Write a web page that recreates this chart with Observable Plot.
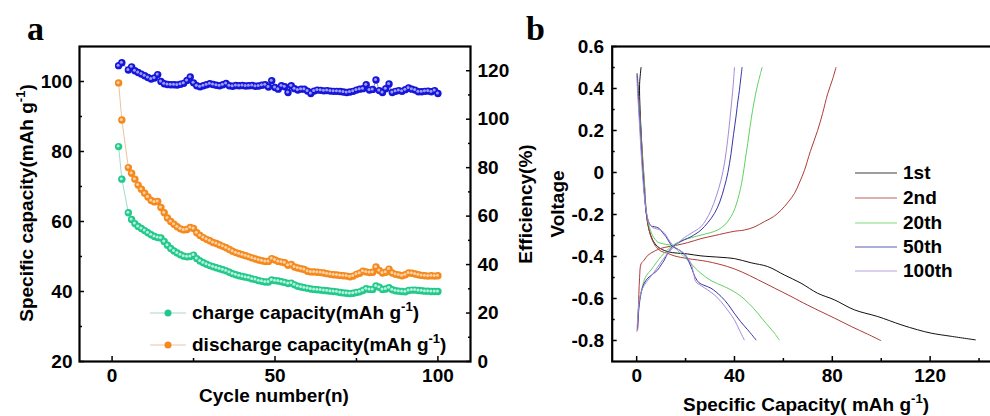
<!DOCTYPE html>
<html><head><meta charset="utf-8">
<script src="https://cdn.jsdelivr.net/npm/d3@7"></script>
<script src="https://cdn.jsdelivr.net/npm/@observablehq/plot@0.6"></script>
<style>
body{margin:0;width:990px;height:416px;overflow:hidden;position:relative;background:#fff;font-family:"Liberation Sans",Arial,sans-serif;}
#pa,#pb{position:absolute;top:0;}
#pa{left:0;width:545px}#pb{left:545px;width:458px}
.t{position:absolute;font-weight:bold;font-size:19px;white-space:nowrap;color:#000;line-height:1}
.rot{transform:translate(-50%,-50%) rotate(-90deg)}
.ctr{transform:translate(-50%,-50%)}
.sup{font-size:13px;position:relative;top:-8px}
.letter{position:absolute;font-family:"Liberation Serif","Times New Roman",serif;font-weight:bold;font-size:34px;line-height:1}
.leg{position:absolute;display:flex;align-items:center;font-weight:bold;font-size:19px;white-space:nowrap;line-height:1}
</style></head>
<body>
<div id="pa"></div><div id="pb"></div>
<script>
// ---------- Panel a data ----------
const cycles = [2,3,5,6,7,8,9,10,11,12,13,14,15,16,17,18,19,20,21,22,23,24,25,26,27,28,29,30,31,32,33,34,35,36,37,38,39,40,41,42,43,44,45,46,47,48,49,50,51,52,53,54,55,56,57,58,59,60,61,62,63,64,65,66,67,68,69,70,71,72,73,74,75,76,77,78,79,80,81,82,83,84,85,86,87,88,89,90,91,92,93,94,95,96,97,98,99,100];
const chargeCap = [81.4,72.1,62.5,60.6,59.4,58.6,58.0,57.4,56.8,56.2,55.7,55.4,55.3,54.3,53.2,52.3,51.6,51.0,50.5,50.1,49.9,50.0,50.4,49.4,48.7,48.2,47.8,47.4,47.1,46.8,46.5,46.2,45.9,45.5,45.1,44.8,44.5,44.3,44.1,43.9,43.6,43.4,43.1,42.9,42.7,42.7,43.3,43.1,43.0,42.8,42.6,42.3,42.4,41.9,41.5,41.3,41.1,40.9,40.7,40.6,40.5,40.4,40.3,40.2,40.1,40.0,39.9,39.7,39.6,39.5,39.4,39.5,39.7,39.9,40.3,40.8,40.6,40.6,41.6,41.2,40.6,40.7,41.1,40.5,40.2,40.1,40.0,39.9,40.3,40.4,40.4,40.3,40.2,40.1,40.1,40.0,40.0,40.0];
const dischargeCap = [99.6,89.0,75.4,73.8,72.1,70.4,69.2,68.1,67.0,66.0,65.6,65.7,64.0,62.5,61.0,60.0,59.2,58.5,57.9,57.6,57.7,58.3,58.0,56.8,56.0,55.4,54.9,54.5,54.0,53.7,53.3,52.9,52.5,52.0,51.5,51.1,50.8,50.5,50.2,49.9,49.6,49.3,49.0,48.8,48.6,48.6,49.4,49.0,48.6,48.4,48.2,47.5,47.7,47.0,46.7,46.5,46.3,45.8,45.6,45.6,45.5,45.4,45.3,45.1,44.9,44.8,44.7,44.6,44.5,44.4,44.2,44.4,44.9,45.2,45.8,45.6,45.4,45.5,47.0,46.0,45.3,45.5,46.4,45.3,44.9,44.7,44.5,44.8,45.3,45.2,45.0,44.8,44.6,44.5,44.4,44.5,44.4,44.5];
const efficiency = [122.1,123.3,120.3,121.6,120.0,119.3,118.6,117.9,117.2,116.6,117.0,118.4,115.6,114.6,114.3,114.2,114.2,114.1,114.4,114.8,116.0,117.4,115.0,113.8,113.4,113.8,114.2,114.6,114.3,114.0,113.8,114.2,114.7,113.8,113.6,113.9,113.8,113.9,113.7,113.8,113.9,113.6,113.7,114.0,114.2,113.3,115.9,113.1,112.4,113.8,113.4,111.0,113.8,112.6,112.0,112.4,112.4,111.6,110.6,111.6,112.0,111.9,111.7,111.8,111.6,111.5,111.5,111.4,111.2,111.0,111.2,111.5,112.0,112.4,112.6,114.2,112.0,112.3,116.2,111.8,111.0,112.6,114.5,111.0,111.5,111.8,111.5,112.2,112.9,112.4,112.0,111.3,111.3,111.5,111.6,111.3,111.8,110.6];
const capTicks = [20,40,60,80,100];
const capMinor = [30,50,70,90];
const effTicks = [0,20,40,60,80,100,120];
const effMinor = [10,30,50,70,90,110];
const cycleTicks = [0,50,100];
const cycleMinor = [25,75];

// ---------- Panel b data ([capacity, voltage]) ----------
const seriesNames = ["1st","2nd","20th","50th","100th"];
const seriesColors = ["#111111","#b03a3a","#5fd35f","#3535a8","#a58bd6"];
const dis1st = [[1.8,0.5],[1.2,0.42],[1.4,0.3],[2.0,0.15],[2.6,0.0],[3.3,-0.12],[4.0,-0.2],[5.0,-0.27],[6.5,-0.32],[8.6,-0.353],[12.7,-0.377],[20.9,-0.388],[26.3,-0.397],[34.5,-0.404],[40,-0.41],[46.8,-0.43],[53.6,-0.448],[60.4,-0.488],[67.2,-0.527],[74,-0.575],[80.8,-0.606],[89,-0.654],[98.6,-0.686],[108.1,-0.725],[114.9,-0.749],[120.4,-0.765],[128.6,-0.78],[138.5,-0.797]];
const dis2nd = [[0.3,0.47],[0.6,0.4],[1.2,0.3],[1.8,0.185],[2.6,0.05],[3.3,-0.07],[4.0,-0.2],[5.0,-0.27],[6.3,-0.32],[7.9,-0.353],[10,-0.375],[12.7,-0.385],[15.4,-0.397],[20.9,-0.41],[29,-0.424],[37.2,-0.448],[42.7,-0.472],[49.5,-0.51],[56.3,-0.55],[63.1,-0.59],[70,-0.632],[80.8,-0.693],[87.7,-0.733],[94.5,-0.77],[99.8,-0.8]];
const ch2nd = [[0.4,-0.75],[0.6,-0.68],[0.9,-0.58],[1.2,-0.5],[1.8,-0.435],[3.1,-0.417],[4.5,-0.395],[7.2,-0.375],[10,-0.361],[16.8,-0.345],[20.9,-0.334],[26.3,-0.315],[32,-0.3],[39.9,-0.28],[44,-0.274],[48,-0.26],[52.2,-0.234],[56,-0.21],[59,-0.18],[62,-0.14],[64.5,-0.1],[66.5,-0.05],[68.6,0.01],[71,0.1],[74,0.2],[76,0.28],[78.1,0.375],[80,0.44],[81.5,0.5]];
const dis20th = [[0.2,0.47],[0.6,0.38],[1.2,0.28],[1.8,0.16],[2.6,0.03],[3.3,-0.08],[4.0,-0.19],[5,-0.25],[6.5,-0.3],[8.5,-0.33],[11,-0.34],[14.7,-0.35],[17.5,-0.38],[20.9,-0.417],[23.5,-0.45],[26.3,-0.48],[30.4,-0.515],[35.8,-0.543],[39.5,-0.565],[42.7,-0.59],[46,-0.625],[49.5,-0.67],[53,-0.72],[56,-0.76],[58.3,-0.797]];
const ch20th = [[0.4,-0.7],[1.0,-0.62],[2.4,-0.54],[4,-0.49],[5.9,-0.464],[8,-0.43],[10,-0.4],[12,-0.375],[14,-0.353],[16.5,-0.335],[19.5,-0.32],[22.5,-0.31],[26.3,-0.298],[30,-0.287],[33.1,-0.274],[36,-0.25],[38.6,-0.21],[40.2,-0.17],[41.3,-0.13],[42.4,-0.08],[43.4,-0.02],[44.4,0.06],[45.4,0.138],[46.4,0.22],[47.4,0.296],[48.5,0.365],[49.5,0.42],[50.5,0.465],[51.3,0.5]];
const dis50th = [[0.3,0.46],[0.7,0.36],[1.3,0.24],[2,0.1],[2.8,-0.04],[3.5,-0.14],[4.2,-0.21],[5.2,-0.242],[5.9,-0.255],[7.2,-0.258],[9.2,-0.266],[10.5,-0.285],[12,-0.306],[13.5,-0.335],[14.7,-0.353],[17.4,-0.369],[20.2,-0.4],[22.2,-0.448],[24,-0.5],[25.5,-0.525],[27.5,-0.537],[30.4,-0.551],[34.5,-0.59],[37.5,-0.63],[39.9,-0.67],[42.5,-0.71],[45.4,-0.749],[48.8,-0.797]];
const ch50th = [[0.4,-0.74],[0.9,-0.65],[1.8,-0.575],[3,-0.53],[4.5,-0.504],[6.5,-0.485],[8.6,-0.464],[10,-0.44],[11.3,-0.417],[12.7,-0.385],[14,-0.361],[16.8,-0.337],[19.5,-0.32],[22.2,-0.306],[26.3,-0.274],[29,-0.24],[31.8,-0.195],[34,-0.14],[35.9,-0.068],[37.3,0.0],[38.6,0.09],[39.6,0.18],[40.6,0.264],[41.4,0.34],[42,0.39],[42.6,0.45],[43.1,0.5]];
const dis100th = [[0,0.47],[0.5,0.36],[1.1,0.24],[1.8,0.1],[2.6,-0.04],[3.4,-0.14],[4.2,-0.2],[5.2,-0.245],[6.5,-0.262],[8,-0.268],[10,-0.276],[11.5,-0.29],[12.7,-0.313],[14,-0.335],[15.4,-0.353],[17.5,-0.37],[19.5,-0.385],[21,-0.41],[22.2,-0.432],[23.3,-0.48],[24.2,-0.52],[26.5,-0.54],[29,-0.559],[32,-0.585],[34.5,-0.615],[37.5,-0.66],[39.9,-0.7],[42,-0.75],[44,-0.797]];
const ch100th = [[0.1,-0.757],[0.5,-0.68],[1.2,-0.6],[2.5,-0.55],[4.1,-0.52],[6.5,-0.485],[8.6,-0.45],[10.7,-0.415],[12.7,-0.385],[14.7,-0.36],[16.8,-0.337],[19.5,-0.31],[22.2,-0.29],[24.3,-0.275],[26.3,-0.258],[28.4,-0.225],[30.4,-0.18],[32.5,-0.115],[34.5,-0.036],[36,0.05],[37.2,0.154],[38.1,0.25],[38.9,0.344],[39.5,0.42],[40,0.5]];
const voltTicks = [-0.8,-0.6,-0.4,-0.2,0,0.2,0.4,0.6];
const voltMinor = [-0.7,-0.5,-0.3,-0.1,0.1,0.3,0.5];
const capBTicks = [0,40,80,120];
const capBMinor = [20,60,100,140];

// ---------- Panel a ----------
const effToLeft = e => 20 + e * 90 / 130;
const leftToEff = y => Math.round((y - 20) * 130 / 90);
const rowsA = cycles.map((c, i) => ({c, ch: chargeCap[i], dis: dischargeCap[i], eff: efficiency[i]}));
const GREEN = "#22c98c", ORANGE = "#f5891c", BLUE = "#1616d8";
const styleCommon = {fontFamily: "'Liberation Sans', Arial, sans-serif", fontSize: "19px", fontWeight: "bold", color: "#000", background: "transparent", overflow: "visible", maxWidth: "none"};
const dotsWithHighlight = (y, color, hl) => [
  Plot.dot(rowsA, {x: "c", y, r: 3.7, fill: color}),
  Plot.dot(rowsA, {x: "c", y, r: 1.5, fill: hl, dx: -0.5, dy: -0.5})
];
const plotA = Plot.plot({
  width: 545, height: 416, marginLeft: 79, marginRight: 75, marginTop: 46, marginBottom: 55,
  x: {domain: [-10, 110]},
  y: {domain: [20, 110]},
  style: styleCommon,
  marks: [
    Plot.line(rowsA, {x: "c", y: "ch", stroke: "#9fdcc6", strokeWidth: 1}),
    Plot.line(rowsA, {x: "c", y: "dis", stroke: "#ecc39e", strokeWidth: 1}),
    Plot.line(rowsA, {x: "c", y: d => effToLeft(d.eff), stroke: "#8f8fe8", strokeWidth: 1}),
    ...dotsWithHighlight("ch", GREEN, "#b8f0da"),
    ...dotsWithHighlight("dis", ORANGE, "#fbd2a8"),
    ...dotsWithHighlight(d => effToLeft(d.eff), BLUE, "#9c9cff"),
    Plot.axisY(capTicks, {anchor: "left", tickSize: 0, tickPadding: 7, label: null}),
    Plot.axisY(capTicks, {anchor: "left", tickSize: -5, tickFormat: () => "", label: null, strokeWidth: 1.5}),
    Plot.axisY(capMinor, {anchor: "left", tickSize: -3, tickFormat: () => "", label: null, strokeWidth: 1.5}),
    Plot.axisY(effTicks.map(effToLeft), {anchor: "right", tickSize: 0, tickPadding: 7, tickFormat: leftToEff, label: null}),
    Plot.axisY(effTicks.map(effToLeft), {anchor: "right", tickSize: -5, tickFormat: () => "", label: null, strokeWidth: 1.5}),
    Plot.axisY(effMinor.map(effToLeft), {anchor: "right", tickSize: -3, tickFormat: () => "", label: null, strokeWidth: 1.5}),
    Plot.axisX(cycleTicks, {anchor: "bottom", tickSize: 0, tickPadding: 7, label: null}),
    Plot.axisX(cycleTicks, {anchor: "bottom", tickSize: -5, tickFormat: () => "", label: null, strokeWidth: 1.5}),
    Plot.axisX(cycleMinor, {anchor: "bottom", tickSize: -3, tickFormat: () => "", label: null, strokeWidth: 1.5}),
    Plot.frame({stroke: "#000", strokeWidth: 2.2})
  ]
});
document.getElementById("pa").append(plotA);

// ---------- Panel b ----------
const curves = [
  {name: "1st", id: "1d", pts: dis1st},
  {name: "2nd", id: "2d", pts: dis2nd}, {name: "2nd", id: "2c", pts: ch2nd},
  {name: "20th", id: "20d", pts: dis20th}, {name: "20th", id: "20c", pts: ch20th},
  {name: "50th", id: "50d", pts: dis50th}, {name: "50th", id: "50c", pts: ch50th},
  {name: "100th", id: "100d", pts: dis100th}, {name: "100th", id: "100c", pts: ch100th}
];
const rowsB = curves.flatMap(cv => cv.pts.map(([cap, v]) => ({cap, v, name: cv.name, id: cv.id})));
const fmtV = d => d === 0 ? "0" : d.toFixed(1);
const plotB = Plot.plot({
  width: 458, height: 416, marginLeft: 66.7, marginRight: 0, marginTop: 46, marginBottom: 55,
  x: {domain: [-10, 150]},
  y: {domain: [-0.9, 0.6]},
  color: {domain: seriesNames, range: seriesColors},
  style: styleCommon,
  marks: [
    Plot.line(rowsB, {x: "cap", y: "v", z: "id", stroke: "name", strokeWidth: 1, curve: "catmull-rom"}),
    Plot.axisY(voltTicks, {anchor: "left", tickSize: 0, tickPadding: 8, tickFormat: fmtV, label: null}),
    Plot.axisY(voltTicks, {anchor: "left", tickSize: -5, tickFormat: () => "", label: null, strokeWidth: 1.5}),
    Plot.axisY(voltMinor, {anchor: "left", tickSize: -3, tickFormat: () => "", label: null, strokeWidth: 1.5}),
    Plot.axisX(capBTicks, {anchor: "bottom", tickSize: 0, tickPadding: 7, label: null}),
    Plot.axisX(capBTicks, {anchor: "bottom", tickSize: -5, tickFormat: () => "", label: null, strokeWidth: 1.5}),
    Plot.axisX(capBMinor, {anchor: "bottom", tickSize: -3, tickFormat: () => "", label: null, strokeWidth: 1.5}),
    Plot.frame({stroke: "#000", strokeWidth: 2.2})
  ]
});
document.getElementById("pb").append(plotB);

// ---------- Text, legends ----------
function addDiv(cls, html, css) {
  const d = document.createElement("div");
  d.className = cls; d.innerHTML = html;
  Object.assign(d.style, css);
  document.body.append(d);
  return d;
}
const sup = '<span class="sup">-1</span>';
addDiv("letter", "a", {left: "27px", top: "12px"});
addDiv("letter", "b", {left: "526px", top: "12px"});
addDiv("t rot", "Specific capacity(mAh g" + sup + ")", {left: "26px", top: "203px"});
addDiv("t rot", "Efficiency(%)", {left: "525px", top: "204px"});
addDiv("t rot", "Voltage", {left: "557px", top: "204px"});
addDiv("t ctr", "Cycle number(n)", {left: "274px", top: "395px"});
addDiv("t ctr", "Specific Capacity( mAh g" + sup + ")", {left: "806px", top: "404px"});

// legend a
const legA = [["charge capacity(mAh g" + sup + ")", GREEN, "#9fdcc6", 313], ["discharge capacity(mAh g" + sup + ")", ORANGE, "#ecc39e", 345]];
legA.forEach(([txt, c, lc, y]) => {
  addDiv("leg", `<svg width="36" height="12" style="margin-right:6px"><line x1="0" y1="6" x2="36" y2="6" stroke="${lc}" stroke-width="1.2"/><circle cx="18" cy="6" r="3.5" fill="${c}"/></svg><span>${txt}</span>`,
    {left: "150px", top: (y - 10) + "px"});
});
// legend b
seriesNames.forEach((n, i) => {
  const y = [173, 198, 223, 247, 271][i];
  addDiv("leg", `<svg width="42" height="4" style="margin-right:6px"><line x1="0" y1="2" x2="42" y2="2" stroke="${seriesColors[i]}" stroke-width="1.2" opacity="0.8"/></svg><span>${n}</span>`,
    {left: "855px", top: (y - 10) + "px"});
});
</script>
</body></html>
